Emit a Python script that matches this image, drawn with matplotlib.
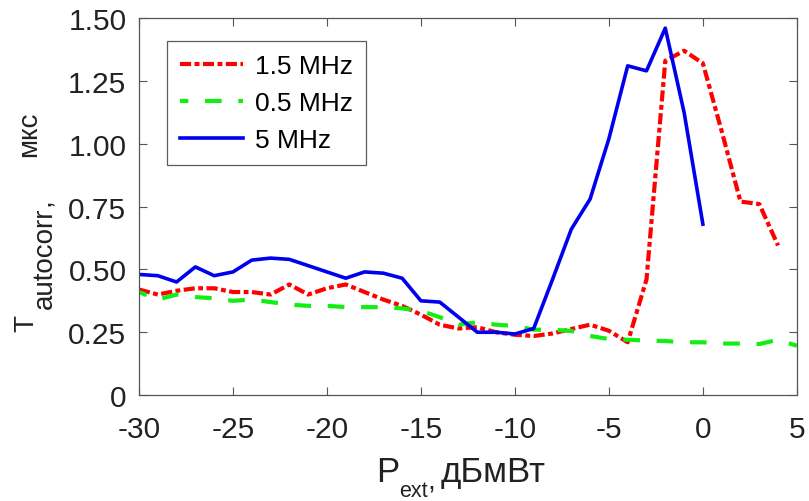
import numpy as np
import matplotlib
matplotlib.use("Agg")
import matplotlib.pyplot as plt

plt.rcParams['font.family'] = ['Liberation Sans', 'DejaVu Sans']
plt.rcParams['axes.unicode_minus'] = False
plt.rcParams['lines.scale_dashes'] = False

# power values, dBm
x_red = np.arange(-30, 5)      # -30 .. 4
x_green = np.arange(-30, 6)    # -30 .. 5
x_blue = np.arange(-30, 1)     # -30 .. 0

# 1.5 MHz
t_red = [0.42, 0.40, 0.415, 0.425, 0.425, 0.41, 0.41, 0.40, 0.44, 0.40,
         0.425, 0.44, 0.41, 0.38, 0.355, 0.32, 0.28, 0.265, 0.27, 0.25,
         0.24, 0.235, 0.245, 0.263, 0.28, 0.256, 0.21, 0.46, 1.33, 1.37,
         1.32, 1.05, 0.77, 0.76, 0.595]
# 0.5 MHz
t_green = [0.41, 0.38, 0.40, 0.39, 0.385, 0.375, 0.38, 0.37, 0.36, 0.355,
           0.355, 0.35, 0.35, 0.35, 0.345, 0.335, 0.31, 0.28, 0.29, 0.28,
           0.275, 0.26, 0.26, 0.255, 0.235, 0.223, 0.22, 0.217, 0.215, 0.21,
           0.21, 0.205, 0.205, 0.203, 0.22, 0.196]
# 5 MHz
t_blue = [0.48, 0.475, 0.45, 0.51, 0.475, 0.49, 0.537, 0.545, 0.54, 0.515,
          0.49, 0.465, 0.49, 0.485, 0.465, 0.375, 0.37, 0.31, 0.25, 0.25,
          0.243, 0.265, 0.46, 0.66, 0.78, 1.02, 1.31, 1.29, 1.46, 1.125,
          0.68]

labels = ['1.5 MHz', '0.5 MHz', '5 MHz']
yticks = [0, 0.25, 0.5, 0.75, 1.0, 1.25, 1.5]
ytick_labels = ['0', '0.25', '0.50', '0.75', '1.00', '1.25', '1.50']

W, H = 809, 502
fig = plt.figure(figsize=(W / 100, H / 100), dpi=100)
ax = fig.add_axes([0.1718, 0.211, 0.8132, 0.751])

ax.plot(x_red, t_red, color='#ff0000', lw=3.0, linestyle=(0, (8, 2.5, 3.5, 2.5)), label=labels[0])
ax.plot(x_green, t_green, color='#11ee11', lw=3.0, linestyle=(6, (12, 12)), label=labels[1])
ax.plot(x_blue, t_blue, color='#0000ee', lw=2.6, label=labels[2])

ax.set_xlim(-30, 5)
ax.set_ylim(0, 1.5)
ax.set_xticks(np.arange(-30, 6, 5))
ax.set_yticks(yticks)
ax.set_yticklabels(ytick_labels)
ax.tick_params(direction='in', top=True, right=True, length=6, width=0.8,
               color='#555555', labelsize=21.5, labelcolor='#222222')
ax.tick_params(axis='x', pad=14)
ax.tick_params(axis='y', pad=9)
for s in ax.spines.values():
    s.set_color('#555555')
    s.set_linewidth(0.9)


# axis labels: MATLAB-like subscripts, placed piece by piece (pixels from top-left)
def put(txt, x, y, size, rot=0):
    fig.text(x / W, 1 - y / H, txt, fontsize=size, color='#222222',
             ha='left', va='baseline', rotation=rot, rotation_mode='anchor')


put('P', 376, 482, 25)
put('ext', 399, 497, 15.5)
put(',', 427, 490, 20)
put('дБмВт', 441, 482, 25)

put('T', 33, 332, 20, rot=90)
put('autocorr', 52, 309, 20, rot=90)
put(',', 50, 206, 20, rot=90)
put('мкс', 36, 157, 20, rot=90)

leg = ax.legend(loc='upper left', bbox_to_anchor=(0.042, 0.94), fontsize=19,
                frameon=True, fancybox=False, edgecolor='#333333',
                handlelength=2.4, handletextpad=0.45, borderpad=0.5,
                labelspacing=0.5, borderaxespad=0)
leg.get_frame().set_linewidth(0.9)

fig.savefig('out.png', dpi=100)
